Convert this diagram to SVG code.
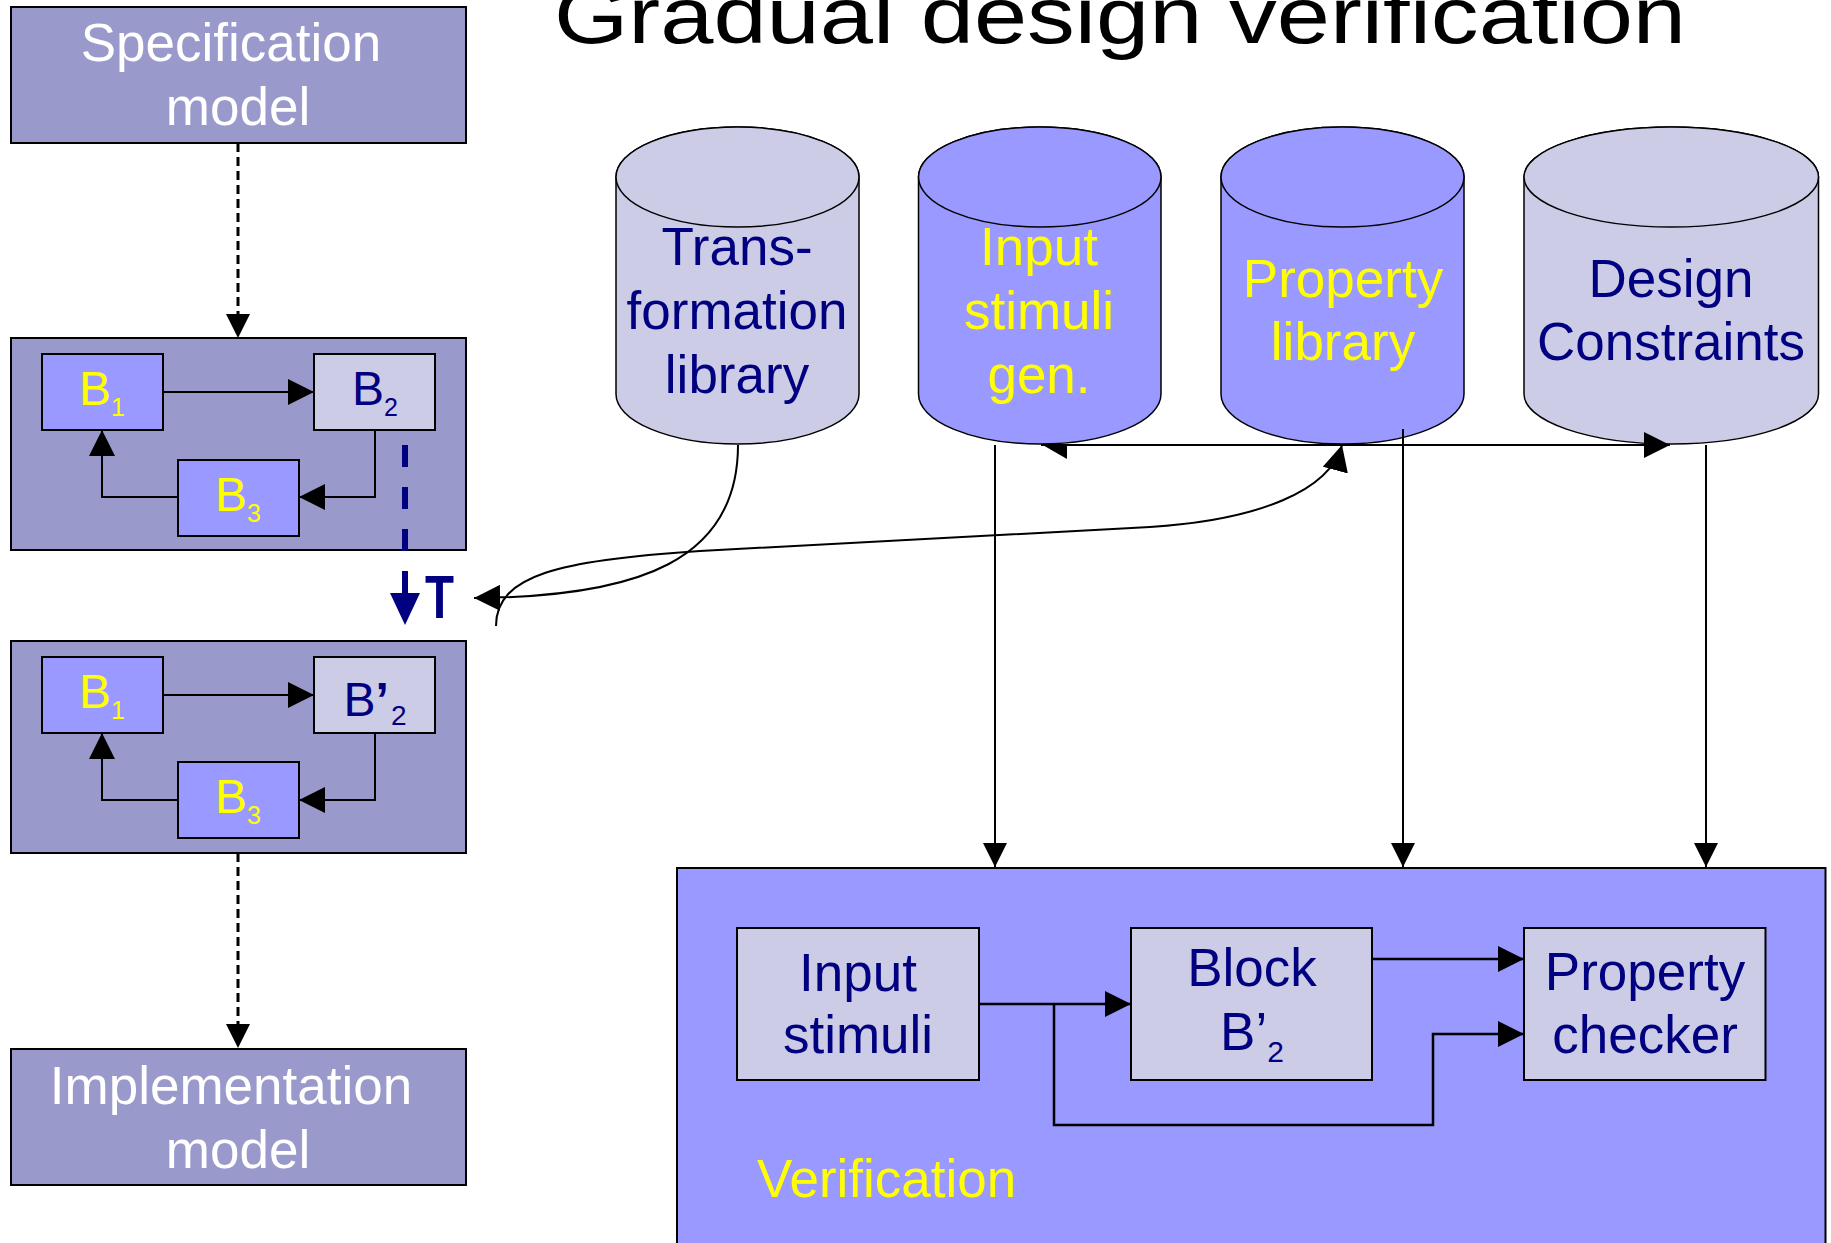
<svg xmlns="http://www.w3.org/2000/svg" width="1831" height="1243" viewBox="0 0 1831 1243">
<style>
text{font-family:"Liberation Sans",Arial,sans-serif;font-size:53px;text-anchor:middle}
.w{fill:#FFFFFF}
.y{fill:#FFFF00}
.n{fill:#000080}
.model{fill:#9999CC;stroke:#000;stroke-width:2}
.blue{fill:#9999FF;stroke:#000;stroke-width:2}
.light{fill:#CCCCE6;stroke:#000;stroke-width:2}
.cylb{fill:#9999FF;stroke:#000;stroke-width:1.5}
.cyll{fill:#CCCCE6;stroke:#000;stroke-width:1.5}
.bt{font-size:48px}
.c{fill:none;stroke:#000;stroke-width:2}
.c3{fill:none;stroke:#000;stroke-width:2.5}
.dash{fill:none;stroke:#000;stroke-width:3;stroke-dasharray:9 5}
</style>
<defs>
<marker id="ah" markerUnits="userSpaceOnUse" viewBox="0 0 26 26" refX="26" refY="13" markerWidth="26" markerHeight="26" orient="auto">
<path d="M0,0 L26,13 L0,26 Z" fill="#000"/>
</marker>
<marker id="ahs" markerUnits="userSpaceOnUse" viewBox="0 0 24 24" refX="24" refY="12" markerWidth="24" markerHeight="24" orient="auto">
<path d="M0,0 L24,12 L0,24 Z" fill="#000"/>
</marker>
</defs>

<text x="554" y="43" style="font-size:80px;text-anchor:start" textLength="1132" lengthAdjust="spacingAndGlyphs">Gradual design verification</text>

<g id="spec-model">
<rect class="model" x="11" y="7" width="455" height="136"/>
<text class="w" x="231" y="61">Specification</text>
<text class="w" x="238" y="125">model</text>
</g>

<g id="model-graph-1">
<rect class="model" x="11" y="338" width="455" height="212"/>
</g>
<g id="g1-b1">
<rect class="blue" x="42" y="354" width="121" height="76"/>
<text class="y bt" x="102" y="405">B<tspan font-size="25" dy="11">1</tspan></text>
</g>
<g id="g1-b2">
<rect class="light" x="314" y="354" width="121" height="76"/>
<text class="n bt" x="375" y="405">B<tspan font-size="25" dy="11">2</tspan></text>
</g>
<g id="g1-b3">
<rect class="blue" x="178" y="460" width="121" height="76"/>
<text class="y bt" x="238" y="511">B<tspan font-size="25" dy="11">3</tspan></text>
</g>

<g id="model-graph-2">
<rect class="model" x="11" y="641" width="455" height="212"/>
</g>
<g id="g2-b1">
<rect class="blue" x="42" y="657" width="121" height="76"/>
<text class="y bt" x="102" y="708">B<tspan font-size="25" dy="11">1</tspan></text>
</g>
<g id="g2-b2p">
<rect class="light" x="314" y="657" width="121" height="76"/>
<text class="n bt" x="375" y="716">B<tspan font-weight="bold">’</tspan><tspan font-size="28" dx="2" dy="9">2</tspan></text>
</g>
<g id="g2-b3">
<rect class="blue" x="178" y="762" width="121" height="76"/>
<text class="y bt" x="238" y="813">B<tspan font-size="25" dy="11">3</tspan></text>
</g>

<g id="impl-model">
<rect class="model" x="11" y="1049" width="455" height="136"/>
<text class="w" x="231" y="1104">Implementation</text>
<text class="w" x="238" y="1168">model</text>
</g>

<g id="T-label">
<text class="n" x="425" y="618" style="font-size:62px;text-anchor:start;font-weight:bold" textLength="29" lengthAdjust="spacingAndGlyphs">T</text>
</g>

<g id="cyl-trans">
<path class="cyll" d="M616,177 V394 A121.5,50 0 0 0 859,394 V177 A121.5,50 0 0 0 616,177 Z"/>
<ellipse class="cyll" cx="737.5" cy="177" rx="121.5" ry="50"/>
<text class="n" x="737" y="265">Trans-</text>
<text class="n" x="737" y="329">formation</text>
<text class="n" x="737" y="393">library</text>
</g>
<g id="cyl-input-gen">
<path class="cylb" d="M918.5,177 V394 A121.25,50 0 0 0 1161,394 V177 A121.25,50 0 0 0 918.5,177 Z"/>
<ellipse class="cylb" cx="1039.75" cy="177" rx="121.25" ry="50"/>
<text class="y" x="1039" y="265">Input</text>
<text class="y" x="1039" y="329">stimuli</text>
<text class="y" x="1039" y="393">gen.</text>
</g>
<g id="cyl-property">
<path class="cylb" d="M1221,177 V394 A121.5,50 0 0 0 1464,394 V177 A121.5,50 0 0 0 1221,177 Z"/>
<ellipse class="cylb" cx="1342.5" cy="177" rx="121.5" ry="50"/>
<text class="y" x="1343" y="297">Property</text>
<text class="y" x="1343" y="360">library</text>
</g>
<g id="cyl-design">
<path class="cyll" d="M1524,177 V394 A147.25,50 0 0 0 1818.5,394 V177 A147.25,50 0 0 0 1524,177 Z"/>
<ellipse class="cyll" cx="1671.25" cy="177" rx="147.25" ry="50"/>
<text class="n" x="1671" y="297">Design</text>
<text class="n" x="1671" y="360">Constraints</text>
</g>

<g id="verification">
<rect class="blue" x="677" y="868" width="1148.5" height="400"/>
<text class="y" x="757" y="1197" style="text-anchor:start">Verification</text>
</g>
<g id="v-input">
<rect class="light" x="737" y="928" width="242" height="152"/>
<text class="n" x="858" y="991">Input</text>
<text class="n" x="858" y="1053">stimuli</text>
</g>
<g id="v-block">
<rect class="light" x="1131" y="928" width="241" height="152"/>
<text class="n" x="1252" y="986">Block</text>
<text class="n" x="1252" y="1050">B’<tspan font-size="30" dy="12">2</tspan></text>
</g>
<g id="v-checker">
<rect class="light" x="1524" y="928" width="241.5" height="152"/>
<text class="n" x="1645" y="990">Property</text>
<text class="n" x="1645" y="1053">checker</text>
</g>

<g id="connectors">
<path class="dash" d="M238,143 V338" marker-end="url(#ahs)"/>
<path class="dash" d="M238,853 V1048" marker-end="url(#ahs)"/>
<path class="c" d="M163,392 H314" marker-end="url(#ah)"/>
<path class="c" d="M375,430 V497 H299" marker-end="url(#ah)"/>
<path class="c" d="M178,497 H102 V430" marker-end="url(#ah)"/>
<path class="c" d="M163,695 H314" marker-end="url(#ah)"/>
<path class="c" d="M375,733 V800 H299" marker-end="url(#ah)"/>
<path class="c" d="M178,800 H102 V733" marker-end="url(#ah)"/>
<path d="M405,445 V593" fill="none" stroke="#000080" stroke-width="6" stroke-dasharray="22 20"/>
<polygon points="390,593 420,593 405,625" fill="#000080"/>
<path class="c" d="M738,445 C738,560 640,597 474,598" marker-end="url(#ah)"/>
<path class="c" d="M496,626 C496,575 560,560 700,551 L1150,527 C1260,520 1330,490 1342,445" marker-end="url(#ah)"/>
<path class="c" d="M1041,445 H1670" marker-end="url(#ah)"/>
<polygon points="1041,444 1067,444 1067,459" fill="#000"/>
<path class="c" d="M995,445 V867" marker-end="url(#ahs)"/>
<path class="c" d="M1403,429 V867" marker-end="url(#ahs)"/>
<path class="c" d="M1706,445 V867" marker-end="url(#ahs)"/>
<path class="c3" d="M979,1004 H1131" marker-end="url(#ah)"/>
<path class="c3" d="M1054,1004 V1125 H1433 V1034 H1524" marker-end="url(#ah)"/>
<path class="c3" d="M1372,959 H1524" marker-end="url(#ah)"/>
</g>
</svg>
